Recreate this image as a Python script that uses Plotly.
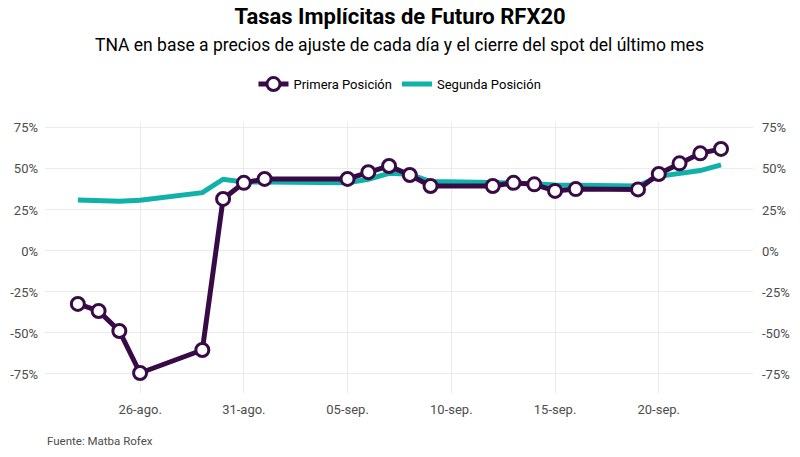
import plotly.graph_objects as go

# Primera posición (con marcadores)
fechas_1 = ["2020-08-23", "2020-08-24", "2020-08-25", "2020-08-26", "2020-08-29",
            "2020-08-30", "2020-08-31", "2020-09-01", "2020-09-05", "2020-09-06",
            "2020-09-07", "2020-09-08", "2020-09-09", "2020-09-12", "2020-09-13",
            "2020-09-14", "2020-09-15", "2020-09-16", "2020-09-19", "2020-09-20",
            "2020-09-21", "2020-09-22", "2020-09-23"]
tna_1 = [-0.323, -0.366, -0.488, -0.744, -0.604,
         0.317, 0.415, 0.439, 0.439, 0.480,
         0.518, 0.463, 0.396, 0.396, 0.415,
         0.406, 0.366, 0.377, 0.375, 0.469,
         0.534, 0.595, 0.622]

# Segunda posición
fechas_2 = ["2020-08-23", "2020-08-25", "2020-08-26", "2020-08-29", "2020-08-30",
            "2020-08-31", "2020-09-01", "2020-09-05", "2020-09-06", "2020-09-07",
            "2020-09-08", "2020-09-09", "2020-09-12", "2020-09-13", "2020-09-14",
            "2020-09-15", "2020-09-16", "2020-09-19", "2020-09-20", "2020-09-21",
            "2020-09-22", "2020-09-23"]
tna_2 = [0.310, 0.303, 0.309, 0.355, 0.437,
         0.420, 0.420, 0.416, 0.437, 0.473,
         0.467, 0.423, 0.417, 0.415, 0.410,
         0.402, 0.400, 0.396, 0.455, 0.475,
         0.490, 0.525]

tick_fechas = ["2020-08-26", "2020-08-31", "2020-09-05", "2020-09-10", "2020-09-15", "2020-09-20"]
tick_textos = ["26-ago.", "31-ago.", "05-sep.", "10-sep.", "15-sep.", "20-sep."]
y_ticks = [-0.75, -0.5, -0.25, 0, 0.25, 0.5, 0.75]
y_textos = ["-75%", "-50%", "-25%", "0%", "25%", "50%", "75%"]

PURPLE = "#380b46"
TEAL = "#0fb1a8"
GRAY = "#4d4d4d"
y_range = [-0.866, 0.78]

# the page body adds an 8px margin, so everything is placed 8px up/left
fig = go.Figure()

fig.add_trace(go.Scatter(
    x=fechas_2, y=tna_2, mode="lines", name="Segunda Posición",
    line=dict(color=TEAL, width=5),
))
fig.add_trace(go.Scatter(
    x=fechas_1, y=tna_1, mode="lines+markers", name="Primera Posición",
    line=dict(color=PURPLE, width=5),
    marker=dict(size=13, color="white", line=dict(color=PURPLE, width=3)),
))
# eje derecho espejo
fig.add_trace(go.Scatter(
    x=[fechas_1[0]], y=[tna_1[0]], yaxis="y2", mode="markers",
    marker=dict(opacity=0), showlegend=False, hoverinfo="skip",
))

fig.update_layout(
    width=800, height=457,
    plot_bgcolor="white", paper_bgcolor="white",
    font=dict(family="Roboto", color=GRAY, size=13),
    margin=dict(l=37, r=55, t=115, b=72),
    title=dict(
        text="<b>Tasas Implícitas de Futuro RFX20</b>",
        xref="container", yref="container",
        x=0.49, xanchor="center", y=0.982, yanchor="middle",
        font=dict(size=22, color="black", family="Roboto"),
    ),
    legend=dict(
        orientation="h", x=0.5014, xanchor="center", y=1.144, yanchor="middle",
        traceorder="reversed", font=dict(size=13, color="black"),
    ),
    xaxis=dict(
        type="date", range=["2020-08-21 10:00", "2020-09-24 13:00"],
        tickvals=tick_fechas, ticktext=tick_textos,
        showgrid=True, gridcolor="#ebebeb", gridwidth=1,
        zeroline=False, showline=False, ticks="", ticklabelstandoff=7,
        tickfont=dict(size=13, color=GRAY), automargin=False,
    ),
    yaxis=dict(
        range=y_range, tickvals=y_ticks, ticktext=y_textos,
        showgrid=True, gridcolor="#ebebeb", zeroline=False, ticks="",
        ticklabelstandoff=6, tickfont=dict(size=13, color=GRAY), automargin=False,
    ),
    yaxis2=dict(
        range=y_range, tickvals=y_ticks, ticktext=y_textos, overlaying="y",
        side="right", showgrid=False, zeroline=False, ticks="",
        ticklabelstandoff=8, tickfont=dict(size=13, color=GRAY), automargin=False,
    ),
    annotations=[
        dict(text="TNA en base a precios de ajuste de cada día y el cierre del spot del último mes",
             xref="paper", yref="paper", x=0.5014, y=1.289, xanchor="center", yanchor="middle",
             showarrow=False, font=dict(size=17.5, color="black")),
        dict(text="Fuente: Matba Rofex", xref="paper", yref="paper", x=0, y=-0.178,
             xanchor="left", yanchor="middle", showarrow=False,
             font=dict(size=11.5, color=GRAY)),
    ],
)

fig.write_html("out.html")
